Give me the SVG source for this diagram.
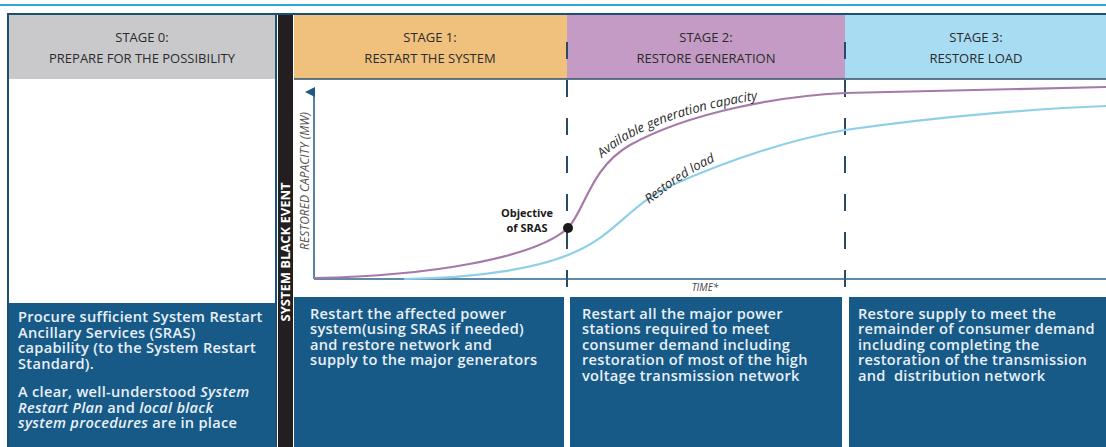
<svg xmlns="http://www.w3.org/2000/svg" width="1106" height="447" viewBox="0 0 1106 447">
  <style>
    .hdr { font-family: "Open Sans", "Liberation Sans", sans-serif; font-size: 13px; font-weight: 500; fill: #2b2b2b; text-anchor: middle; }
    .body { font-family: "Open Sans", "Liberation Sans", sans-serif; font-size: 14.6px; letter-spacing: 0.3px; font-weight: 600; fill: #e9f0f6; }
    .it { font-style: italic; }
    .box { fill: #175a88; }
    .divider { stroke: #2b4a66; stroke-width: 2; stroke-dasharray: 17 21; fill: none; }
    .curve { fill: none; stroke-width: 2.2; stroke-linecap: round; }
    .clabel { font-family: "Open Sans", "Liberation Sans", sans-serif; font-size: 13px; font-style: italic; fill: #2a2a2a; }
    .axis { stroke: #2c628e; stroke-width: 1.6; fill: none; }
  </style>
  <defs>
    <marker id="axisHead" viewBox="0 0 10 10" refX="5" refY="9" markerWidth="10" markerHeight="10" markerUnits="userSpaceOnUse" orient="auto-start-reverse">
      <path d="M0,10 L5,0 L10,10 Z" fill="#1c5a86"/>
    </marker>
    <path id="genPath" d="M602,158 C634,128 700,106 785,96"/>
    <path id="loadPath" d="M649,204 C672,186 695,168 735,153"/>
  </defs>

  <rect width="1106" height="447" fill="#ffffff"/>
  <!-- page rule -->
  <line x1="0" y1="5" x2="1106" y2="5" stroke="#2aa7df" stroke-width="2"/>

  <!-- stage 0 -->
  <g id="stage0">
    <rect x="8" y="14" width="268" height="65" fill="#c9c9cb"/>
    <rect x="8" y="303" width="268" height="144" class="box"/>
    <rect x="8" y="14" width="268" height="440" fill="none" stroke="#1d4f73" stroke-width="2"/>
    <text class="hdr" x="142" y="42">STAGE 0:</text>
    <text class="hdr" x="142" y="63">PREPARE FOR THE POSSIBILITY</text>
    <text class="body" x="18" y="322">Procure sufficient System Restart</text>
    <text class="body" x="18" y="337.5">Ancillary Services (SRAS)</text>
    <text class="body" x="18" y="353">capability (to the System Restart</text>
    <text class="body" x="18" y="368.5">Standard).</text>
    <text class="body" x="18" y="397">A clear, well-understood <tspan class="it">System</tspan></text>
    <text class="body" x="18" y="412.5"><tspan class="it">Restart Plan</tspan> and <tspan class="it">local black</tspan></text>
    <text class="body" x="18" y="428"><tspan class="it">system procedures</tspan> are in place</text>
  </g>

  <!-- system black event bar -->
  <g id="black-event">
    <rect x="278" y="14" width="15" height="433" fill="#231f20"/>
    <text x="290" y="252" transform="rotate(-90 290 252)" text-anchor="middle" font-family="'Open Sans', 'Liberation Sans', sans-serif" font-size="13" font-weight="700" fill="#ffffff" textLength="139" lengthAdjust="spacingAndGlyphs">SYSTEM BLACK EVENT</text>
  </g>

  <!-- stage headers and descriptions -->
  <g id="stage1">
    <rect x="294" y="14" width="273" height="65" fill="#f0c17c"/>
    <text class="hdr" x="430" y="42">STAGE 1:</text>
    <text class="hdr" x="430" y="63">RESTART THE SYSTEM</text>
    <rect x="294" y="297" width="270" height="150" class="box"/>
    <text class="body" x="310" y="318.5">Restart the affected power</text>
    <text class="body" x="310" y="334">system(using SRAS if needed)</text>
    <text class="body" x="310" y="349.5">and restore network and</text>
    <text class="body" x="310" y="365">supply to the major generators</text>
  </g>
  <g id="stage2">
    <rect x="567" y="14" width="278" height="65" fill="#c49bc5"/>
    <text class="hdr" x="706" y="42">STAGE 2:</text>
    <text class="hdr" x="706" y="63">RESTORE GENERATION</text>
    <rect x="570" y="297" width="272" height="150" class="box"/>
    <text class="body" x="582" y="318.5">Restart all the major power</text>
    <text class="body" x="582" y="334">stations required to meet</text>
    <text class="body" x="582" y="349.5">consumer demand including</text>
    <text class="body" x="582" y="365">restoration of most of the high</text>
    <text class="body" x="582" y="380.5">voltage transmission network</text>
  </g>
  <g id="stage3">
    <rect x="845" y="14" width="261" height="65" fill="#a8dcf3"/>
    <text class="hdr" x="976" y="42">STAGE 3:</text>
    <text class="hdr" x="976" y="63">RESTORE LOAD</text>
    <rect x="849" y="297" width="257" height="150" class="box"/>
    <text class="body" x="858" y="318.5">Restore supply to meet the</text>
    <text class="body" x="858" y="334">remainder of consumer demand</text>
    <text class="body" x="858" y="349.5">including completing the</text>
    <text class="body" x="858" y="365">restoration of the transmission</text>
    <text class="body" x="858" y="380.5">and&#160; distribution network</text>
  </g>

  <!-- header frame lines -->
  <line x1="8" y1="14" x2="1106" y2="14" stroke="#1d4f73" stroke-width="2"/>
  <line x1="294" y1="79" x2="1106" y2="79" stroke="#2f4f6a" stroke-width="1.5"/>

  <!-- chart: axes, stage dividers, curves -->
  <g id="connectors">
    <line class="divider" x1="567" y1="42" x2="567" y2="292"/>
    <line class="divider" x1="845" y1="42" x2="845" y2="292"/>
    <line class="axis" x1="314" y1="279" x2="1106" y2="279"/>
    <line class="axis" x1="314" y1="279" x2="314" y2="92" marker-end="url(#axisHead)"/>
    <path class="curve" stroke="#8fd0e7" d="M405,279 C480,278 540,268 575,252 C615,235 630,205 670,186 C740,155 800,138 845,130 C950,115 1050,108 1106,106"/>
    <path class="curve" stroke="#a67aa8" d="M314,278 C430,276 535,258 568,228 C585,210 590,168 630,145 C690,112 780,96 845,93 C950,90 1050,88 1106,87"/>
  </g>

  <g id="chart-labels">
    <text x="309" y="181" transform="rotate(-90 309 181)" text-anchor="middle" font-family="'Open Sans', 'Liberation Sans', sans-serif" font-size="12" font-style="italic" fill="#555">RESTORED CAPACITY (MW)</text>
    <text x="705" y="291" text-anchor="middle" font-family="'Open Sans', 'Liberation Sans', sans-serif" font-size="10" font-style="italic" fill="#444">TIME*</text>
    <text class="clabel"><textPath href="#genPath">Available generation capacity</textPath></text>
    <text class="clabel"><textPath href="#loadPath">Restored load</textPath></text>
  </g>

  <g id="sras-objective">
    <circle cx="568" cy="228" r="5" fill="#1a1a1a"/>
    <text x="527" y="217" text-anchor="middle" font-family="'Open Sans', 'Liberation Sans', sans-serif" font-size="11" font-weight="700" fill="#1a1a1a">Objective</text>
    <text x="527" y="232" text-anchor="middle" font-family="'Open Sans', 'Liberation Sans', sans-serif" font-size="11" font-weight="700" fill="#1a1a1a">of SRAS</text>
  </g>
</svg>
